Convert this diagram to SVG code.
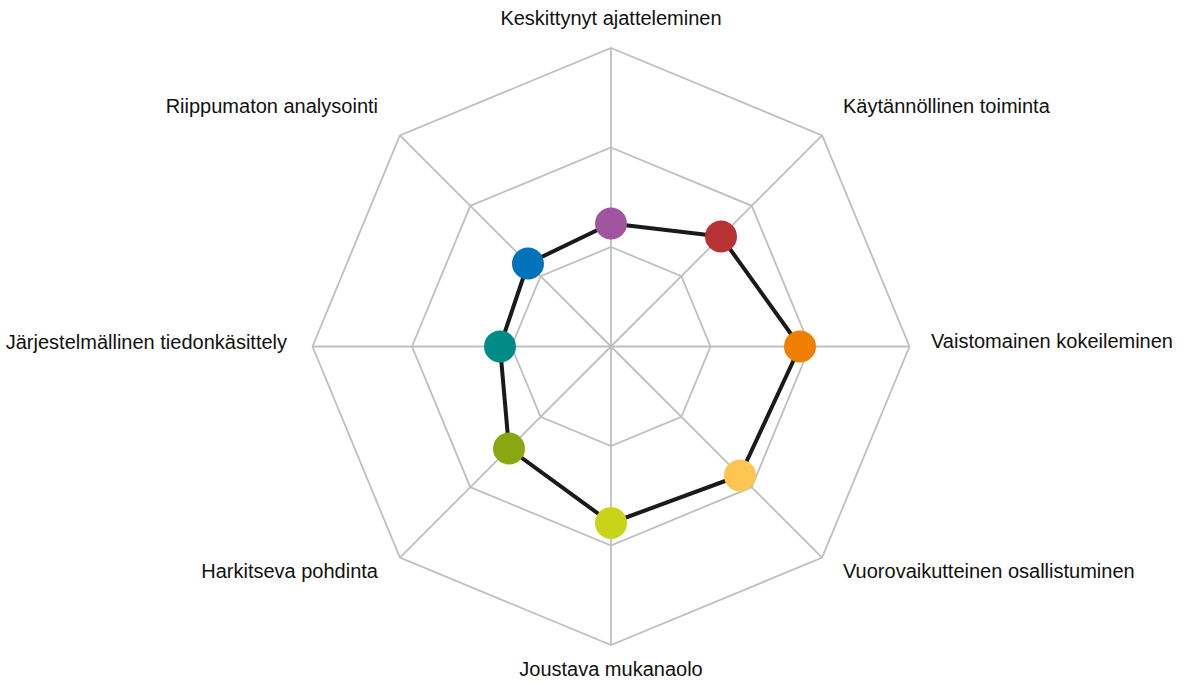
<svg xmlns="http://www.w3.org/2000/svg" width="1183" height="684" viewBox="0 0 1183 684">
<style>
.grid{fill:none;stroke:#bfbfbf;stroke-width:1.8}
.lbl{font-family:"Liberation Sans",Arial,sans-serif;font-size:20px;fill:#111111}
.series{fill:none;stroke:#1a1a1a;stroke-width:4;stroke-linejoin:round}
</style>
<rect width="1183" height="684" fill="#ffffff"/>
<g id="grid" transform="translate(611,346.5)">
<polygon class="grid" points="0,-99.5 70.4,-70.4 99.5,0 70.4,70.4 0,99.5 -70.4,70.4 -99.5,0 -70.4,-70.4"/>
<polygon class="grid" points="0,-199 140.7,-140.7 199,0 140.7,140.7 0,199 -140.7,140.7 -199,0 -140.7,-140.7"/>
<polygon class="grid" points="0,-298.5 211.1,-211.1 298.5,0 211.1,211.1 0,298.5 -211.1,211.1 -298.5,0 -211.1,-211.1"/>
<line class="grid" x1="0" y1="0" x2="0" y2="-298.5"/>
<line class="grid" x1="0" y1="0" x2="211.1" y2="-211.1"/>
<line class="grid" x1="0" y1="0" x2="298.5" y2="0"/>
<line class="grid" x1="0" y1="0" x2="211.1" y2="211.1"/>
<line class="grid" x1="0" y1="0" x2="0" y2="298.5"/>
<line class="grid" x1="0" y1="0" x2="-211.1" y2="211.1"/>
<line class="grid" x1="0" y1="0" x2="-298.5" y2="0"/>
<line class="grid" x1="0" y1="0" x2="-211.1" y2="-211.1"/>
</g>
<g id="connectors">
<polygon class="series" points="611,223.5 721,236.5 800,346.5 740,475.5 611,523 509,448.5 500,346.5 528,263.5"/>
</g>
<g id="node-keskittynyt"><circle cx="611" cy="223.5" r="16" fill="#a0559e"/><text class="lbl" x="611" y="25" text-anchor="middle">Keskittynyt ajatteleminen</text></g>
<g id="node-kaytannollinen"><circle cx="721" cy="236.5" r="16" fill="#b73232"/><text class="lbl" x="843" y="113">Käytännöllinen toiminta</text></g>
<g id="node-vaistomainen"><circle cx="800" cy="346.5" r="16" fill="#f07f00"/><text class="lbl" x="931" y="348">Vaistomainen kokeileminen</text></g>
<g id="node-vuorovaikutteinen"><circle cx="740" cy="475.5" r="16" fill="#fdc652"/><text class="lbl" x="843" y="578">Vuorovaikutteinen osallistuminen</text></g>
<g id="node-joustava"><circle cx="611" cy="523" r="16" fill="#c8d31a"/><text class="lbl" x="611" y="676" text-anchor="middle">Joustava mukanaolo</text></g>
<g id="node-harkitseva"><circle cx="509" cy="448.5" r="16" fill="#8aa712"/><text class="lbl" x="378" y="578" text-anchor="end">Harkitseva pohdinta</text></g>
<g id="node-jarjestelmallinen"><circle cx="500" cy="346.5" r="16" fill="#008b87"/><text class="lbl" x="287" y="349" text-anchor="end">Järjestelmällinen tiedonkäsittely</text></g>
<g id="node-riippumaton"><circle cx="528" cy="263.5" r="16" fill="#0071bb"/><text class="lbl" x="378" y="113" text-anchor="end">Riippumaton analysointi</text></g>
</svg>
